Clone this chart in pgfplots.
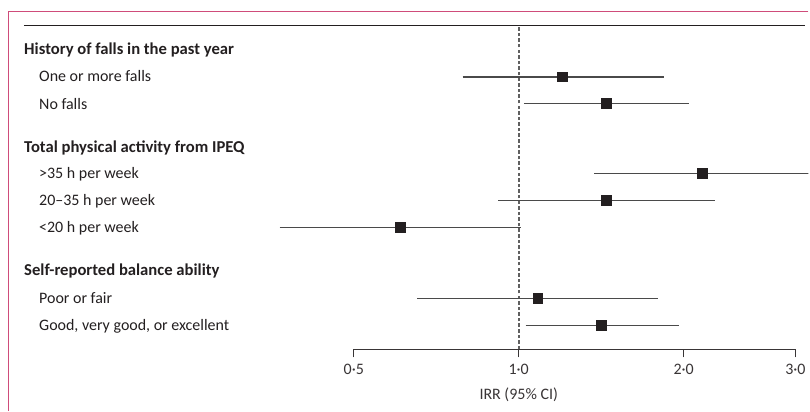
\documentclass[border=0pt]{standalone}
\usepackage{pgfplots}
\pgfplotsset{compat=1.18}
\usepackage{pgfplotstable}
\usepackage{fontspec}
\setmainfont{Carlito}
\definecolor{ink}{HTML}{231F20}
\definecolor{cigray}{HTML}{4A4A4A}
\definecolor{dashgray}{HTML}{606060}
\definecolor{lancet}{HTML}{CF4C7A}

% ypos = height of the row above the scale line (layout position), irr = estimate, lo/hi = 95% CI
\pgfplotstableread{
ypos irr lo hi
273 1.203 0.790 1.839
246 1.447 1.022 2.049
176 2.165 1.374 3.600
149 1.447 0.917 2.281
122 0.608 0.366 1.009
51  1.084 0.653 1.795
24  1.416 1.029 1.963
}\foresttable

\begin{document}
\begin{tikzpicture}
\begin{scope}[x=0.75pt,y=-0.75pt]
\path[use as bounding box] (0,0) rectangle (810,412);
\end{scope}
\begin{axis}[
  at={(18pt,-262.5pt)}, anchor=south west,
  scale only axis, width=589.5pt, height=243.75pt,
  xmode=log, log basis x=2, xmin=0.125, xmax=3.378,
  ymin=0, ymax=325,
  axis y line=none, axis x line*=bottom,
  x axis line style={draw=none},
  xtick={0.5,1,2,3.2}, xticklabels={0·5,1·0,2·0,3·0},
  minor xtick={},
  tick align=outside, major tick length=6pt,
  xtick style={draw=ink!90, line width=0.8pt},
  xticklabel style={font=\fontsize{12}{14}\selectfont, text=ink!90, yshift=-1.5pt},
  clip mode=individual,
]
% dashed line of no effect
\draw[dashgray, line width=1.4pt, dash pattern=on 2.6pt off 1.6pt] (axis cs:1,0) -- (axis cs:1,323);
% scale line
\draw[ink!90, line width=0.8pt] (axis cs:0.5,0) -- (axis cs:3.2,0);
% confidence intervals
\addplot[cigray, line width=1pt, mark=none] coordinates {(0.790,273) (1.839,273)};
\addplot[cigray, line width=1pt, mark=none] coordinates {(1.022,246) (2.049,246)};
\addplot[cigray, line width=1pt, mark=none] coordinates {(1.374,176) (3.600,176)};
\addplot[cigray, line width=1pt, mark=none] coordinates {(0.917,149) (2.281,149)};
\addplot[cigray, line width=1pt, mark=none] coordinates {(0.366,122) (1.009,122)};
\addplot[cigray, line width=1pt, mark=none] coordinates {(0.653,51) (1.795,51)};
\addplot[cigray, line width=1pt, mark=none] coordinates {(1.029,24) (1.963,24)};
% point estimates
\addplot[only marks, mark=square*, mark size=3.6pt, mark options={fill=ink, draw=ink, line width=0pt}] table[x=irr, y=ypos] {\foresttable};
\node[anchor=base, inner sep=0pt, text=ink!90, font=\fontsize{12}{14}\selectfont] at ([yshift=-37.5pt]axis cs:1,0) {IRR (95\% CI)};
\end{axis}
\begin{scope}[x=0.75pt,y=-0.75pt]
% frame and top rule
\draw[lancet, line width=1pt] (810,11.5) -- (8.5,11.5) -- (8.5,412);
\draw[ink, line width=1pt] (24,25.7) -- (807,25.7);
% row labels
\begin{scope}[every node/.style={anchor=base west, inner sep=0pt, text=ink, font=\fontsize{12}{14}\selectfont}]
\node[font=\fontsize{12.5}{14}\selectfont\bfseries] at (24,55) {History of falls in the past year};
\node at (39,82) {One or more falls};
\node at (39,109.5) {No falls};
\node[font=\fontsize{12.5}{14}\selectfont\bfseries] at (24,152.7) {Total physical activity from IPEQ};
\node at (39,179) {>35 h per week};
\node at (39,205.5) {20–35 h per week};
\node at (39,233) {<20 h per week};
\node[font=\fontsize{12.5}{14}\selectfont\bfseries] at (24,276) {Self-reported balance ability};
\node at (39,304) {Poor or fair};
\node at (39,331) {Good, very good, or excellent};
\end{scope}
\end{scope}
\end{tikzpicture}
\end{document}
